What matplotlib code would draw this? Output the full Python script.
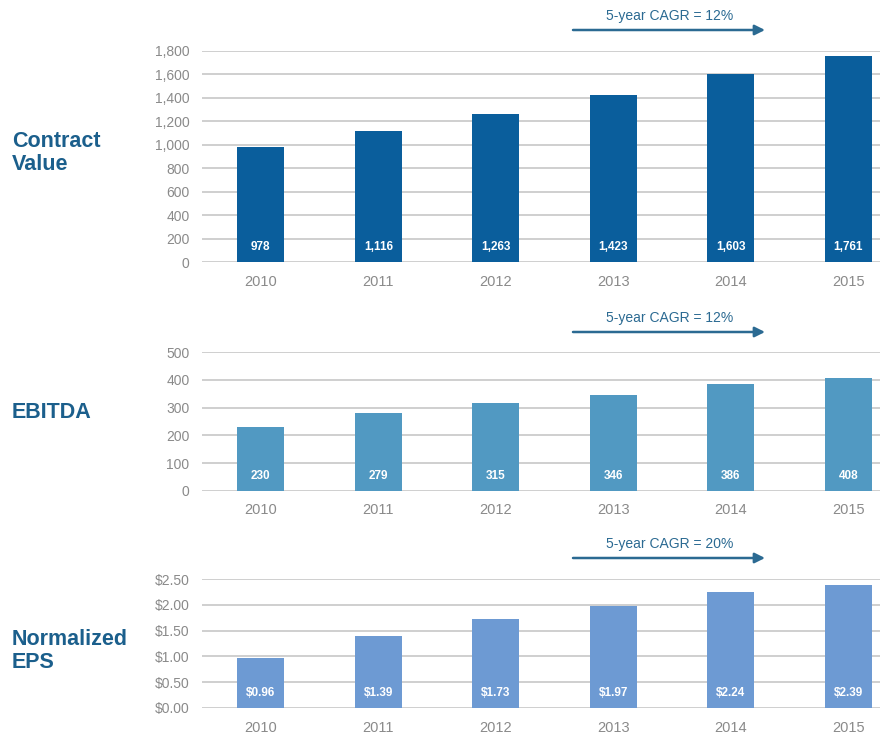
import matplotlib
matplotlib.use("Agg")
import matplotlib.pyplot as plt

years = ["2010", "2011", "2012", "2013", "2014", "2015"]
contract_value = [978, 1116, 1263, 1423, 1603, 1761]
ebitda = [230, 279, 315, 346, 386, 408]
eps = [0.96, 1.39, 1.73, 1.97, 2.24, 2.39]

contract_labels = ["978", "1,116", "1,263", "1,423", "1,603", "1,761"]
ebitda_labels = ["230", "279", "315", "346", "386", "408"]
eps_labels = ["$0.96", "$1.39", "$1.73", "$1.97", "$2.24", "$2.39"]

contract_ticks = [0, 200, 400, 600, 800, 1000, 1200, 1400, 1600, 1800]
contract_ticklabels = ["0", "200", "400", "600", "800", "1,000", "1,200", "1,400", "1,600", "1,800"]
ebitda_ticks = [0, 100, 200, 300, 400, 500]
ebitda_ticklabels = ["0", "100", "200", "300", "400", "500"]
eps_ticks = [0, 0.5, 1.0, 1.5, 2.0, 2.5]
eps_ticklabels = ["$0.00", "$0.50", "$1.00", "$1.50", "$2.00", "$2.50"]

titles = ["Contract\nValue", "EBITDA", "Normalized\nEPS"]
cagr_texts = ["5-year CAGR = 12%", "5-year CAGR = 12%", "5-year CAGR = 20%"]

colors = ["#0a5e9c", "#5199c2", "#6d9ad3"]
title_color = "#1b5f8c"
grid_color = "#cccccc"
tick_color = "#8a8a8a"

plt.rcParams['font.family'] = ['Liberation Sans', 'DejaVu Sans']

W, H = 881, 735
fig = plt.figure(figsize=(W / 100, H / 100), dpi=100)

panels = [
    (51, 262, contract_value, contract_labels, contract_ticks, contract_ticklabels, 1800),
    (352, 491, ebitda, ebitda_labels, ebitda_ticks, ebitda_ticklabels, 500),
    (579, 708, eps, eps_labels, eps_ticks, eps_ticklabels, 2.5),
]
title_y = [153, 413, 651]
cagr_y = [30, 332, 558]

left_px, right_px = 202, 880
x = list(range(len(years)))

for i, (top, bot, vals, labs, ticks, ticklabs, ymax) in enumerate(panels):
    ax = fig.add_axes([left_px / W, 1 - bot / H, (right_px - left_px) / W, (bot - top) / H])
    ax.bar(x, vals, width=0.4, color=colors[i], zorder=3)
    ax.set_xlim(-0.5, 5.27)
    ax.set_ylim(0, ymax)
    ax.set_yticks(ticks)
    ax.set_yticklabels(ticklabs)
    ax.set_xticks(x)
    ax.set_xticklabels(years)
    for s in ax.spines.values():
        s.set_visible(False)
    ax.grid(axis='y', color=grid_color, linewidth=1.3, zorder=0)
    ax.tick_params(axis='both', length=0, colors=tick_color, labelsize=10)
    ax.tick_params(axis='y', pad=9)
    ax.tick_params(axis='x', pad=9, labelsize=10.5)
    for xi, lab in zip(x, labs):
        ax.annotate(lab, (xi, 0), xytext=(0, 11), textcoords='offset points',
                    ha='center', va='center', color='white', fontsize=8.5,
                    fontweight='bold', zorder=4)
    fig.text(12 / W, 1 - title_y[i] / H, titles[i], ha='left', va='center',
             fontsize=15.5, fontweight='bold', color=title_color, linespacing=1.1)
    ay = 1 - cagr_y[i] / H
    ax.annotate("", xy=(765 / W, ay), xytext=(573 / W, ay), xycoords='figure fraction',
                textcoords='figure fraction',
                arrowprops=dict(arrowstyle='-|>,head_length=0.6,head_width=0.3',
                                color='#2b6a92', lw=1.8, shrinkA=0, shrinkB=0),
                annotation_clip=False)
    fig.text(670 / W, 1 - (cagr_y[i] - 14) / H, cagr_texts[i], ha='center', va='center',
             fontsize=10, color='#2b6a92')

fig.savefig("out.png", dpi=100)
